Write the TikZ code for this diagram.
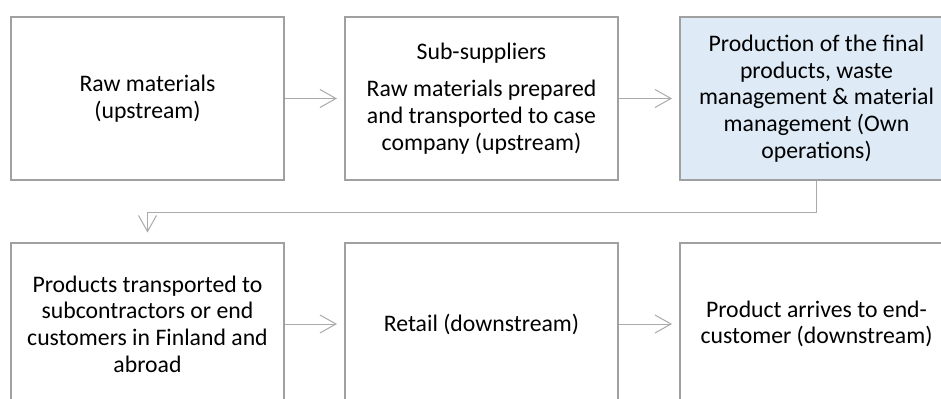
\documentclass[tikz,border=0pt]{standalone}
\usepackage{fontspec}
\setmainfont{Carlito}
\usetikzlibrary{arrows.meta}
\definecolor{boxline}{RGB}{160,160,160}
\definecolor{connline}{RGB}{170,170,170}
\definecolor{ownfill}{RGB}{222,234,246}
\begin{document}
\begin{tikzpicture}[x=0.75pt,y=-0.75pt,
  stagebox/.style={draw=boxline, line width=1.5pt, fill=white,
    minimum width=204.75pt, minimum height=122.25pt, inner sep=0pt,
    align=center, font=\fontsize{17.8pt}{20pt}\selectfont},
  conn/.style={draw=connline, line width=0.75pt,
    -{Straight Barb[length=12pt,width=13.5pt,line width=0.75pt]}, shorten >=5.25pt}]
\clip (0,0) rectangle (941,399);
\fill[white] (0,0) rectangle (941,399);
\node[stagebox] (b1) at (147.5,98.5) {Raw materials\\(upstream)};
\node[stagebox] (b2) at (481.5,98.5) {Sub-suppliers\\[8pt]Raw materials prepared\\and transported to case\\company (upstream)};
\node[stagebox, fill=ownfill] (b3) at (816.5,98.5) {Production of the final\\products, waste\\management \& material\\management (Own\\operations)};
\node[stagebox] (b4) at (147.5,324) {Products transported to\\subcontractors or end\\customers in Finland and\\abroad};
\node[stagebox] (b5) at (481.5,324) {Retail (downstream)};
\node[stagebox] (b6) at (816.5,324) {Product arrives to end-\\customer (downstream)};
\draw[conn] (b1) -- (b2);
\draw[conn] (b2) -- (b3);
\coordinate (turn) at ([yshift=-23.25pt]b3.south);
\draw[conn, shorten >=6.75pt] (b3.south) -- (turn) -| (b4.north);
\draw[conn] (b4) -- (b5);
\draw[conn] (b5) -- (b6);
\end{tikzpicture}
\end{document}
